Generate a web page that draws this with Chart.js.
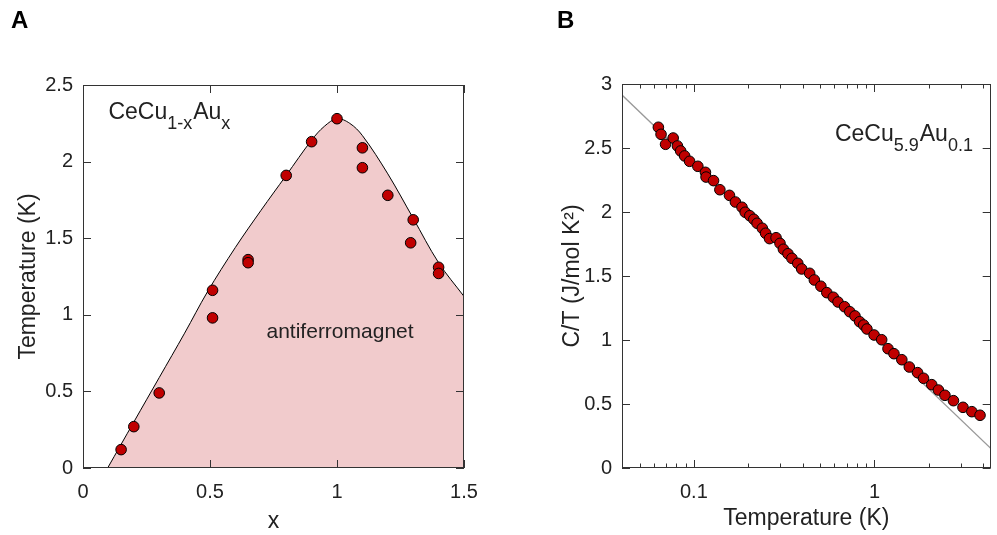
<!DOCTYPE html>
<html lang="en">
<head>
<meta charset="UTF-8">
<title>CeCu6-xAux: phase diagram and specific heat</title>
<style>
  body { margin: 0; background: #fff; }
  #wrap { position: relative; width: 997px; height: 535px; }
  #chartA { position: absolute; left: 0; top: 0; }
  #chartB { position: absolute; left: 500px; top: 0; }
</style>
<script src="https://cdn.jsdelivr.net/npm/chart.js"></script>
</head>
<body>
<div id="wrap">
  <canvas id="chartA" width="500" height="535"></canvas>
  <canvas id="chartB" width="497" height="535"></canvas>
</div>
<script>
// ---- Panel A: Neel temperature vs Au content x ----
const tnX = [0.15, 0.2, 0.3, 0.51, 0.51, 0.65, 0.65, 0.8, 0.9, 1.0, 1.1, 1.1, 1.2, 1.3, 1.29, 1.4, 1.4];
const tnY = [0.12, 0.27, 0.49, 1.16, 0.98, 1.36, 1.34, 1.91, 2.13, 2.28, 2.09, 1.96, 1.78, 1.62, 1.47, 1.31, 1.27];
// phase boundary
const boundaryX = [0.097, 0.2, 0.3, 0.4, 0.49, 0.6, 0.7, 0.8, 0.9, 0.95, 1.0, 1.05, 1.1, 1.2, 1.3, 1.4, 1.5];
const boundaryY = [0, 0.30, 0.59, 0.88, 1.15, 1.44, 1.68, 1.91, 2.14, 2.23, 2.28, 2.25, 2.17, 1.92, 1.63, 1.34, 1.12];
const xTicksA = [0, 0.5, 1, 1.5];
const yTicksA = [0, 0.5, 1, 1.5, 2, 2.5];

// ---- Panel B: C/T vs T for CeCu5.9Au0.1 ----
const tempB = [0.0636, 0.0658, 0.0697, 0.0768, 0.0811, 0.0845, 0.0889, 0.0947, 0.1052, 0.1159,
               0.1168, 0.1285, 0.1393, 0.1574, 0.1698, 0.1847, 0.1924, 0.204, 0.2147, 0.2239,
               0.2393, 0.2495, 0.2624, 0.2851, 0.2998, 0.3131, 0.3318, 0.349, 0.376, 0.3954,
               0.4375, 0.4645, 0.5048, 0.5445, 0.5916, 0.628, 0.6829, 0.7297, 0.7798, 0.8276,
               0.871, 0.908, 0.995, 1.096, 1.188, 1.282, 1.417, 1.559, 1.733, 1.869,
               2.075, 2.259, 2.455, 2.737, 3.09, 3.46, 3.84];
const cOverT = [2.662, 2.607, 2.529, 2.578, 2.516, 2.477, 2.438, 2.396, 2.357, 2.31,
                2.273, 2.245, 2.174, 2.13, 2.078, 2.037, 1.998, 1.971, 1.943, 1.912,
                1.873, 1.834, 1.792, 1.799, 1.755, 1.709, 1.674, 1.638, 1.599, 1.555,
                1.521, 1.469, 1.42, 1.37, 1.334, 1.297, 1.26, 1.221, 1.188, 1.143,
                1.117, 1.086, 1.039, 1.002, 0.932, 0.893, 0.846, 0.789, 0.745, 0.701,
                0.651, 0.609, 0.568, 0.526, 0.474, 0.44, 0.412];
// -log T guide line, end points
const fitT = [0.04, 4.4];
const fitCT = [2.914, 0.154];
const xTicksB = [0.04, 0.05, 0.06, 0.07, 0.08, 0.09, 0.1, 0.2, 0.3, 0.4, 0.5, 0.6, 0.7, 0.8, 0.9, 1, 2, 3, 4];
const xMajorB = [0.1, 1];
const yTicksB = [0, 0.5, 1, 1.5, 2, 2.5, 3];

const FONT = '"Liberation Sans", Arial, sans-serif';
const TEXT = '#222';

function pairs(xs, ys) {
  return xs.map((x, i) => ({ x: x, y: ys[i] }));
}

// draws box frame + inward tick marks on all four sides, panel letter and labels
const framePlugin = {
  id: 'frame',
  afterDatasetsDraw(chart, args, o) {
    const ctx = chart.ctx;
    const a = chart.chartArea;
    const xs = chart.scales.x, ys = chart.scales.y;
    ctx.save();
    ctx.strokeStyle = '#333';
    ctx.lineWidth = 1;
    ctx.beginPath();
    xs.ticks.forEach(t => {
      const px = Math.round(xs.getPixelForValue(t.value)) + 0.5;
      const len = o.isMajor(t.value) ? 8 : 4.5;
      ctx.moveTo(px, a.bottom); ctx.lineTo(px, a.bottom - len);
      ctx.moveTo(px, a.top); ctx.lineTo(px, a.top + len);
    });
    ys.ticks.forEach(t => {
      const py = Math.round(ys.getPixelForValue(t.value)) + 0.5;
      ctx.moveTo(a.left, py); ctx.lineTo(a.left + 8, py);
      ctx.moveTo(a.right, py); ctx.lineTo(a.right - 8, py);
    });
    ctx.stroke();
    ctx.strokeRect(Math.round(a.left) + 0.5, Math.round(a.top) + 0.5,
                   Math.round(a.width) - 1, Math.round(a.height) - 1);

    // panel letter
    ctx.fillStyle = '#000';
    ctx.font = 'bold 24px ' + FONT;
    ctx.textBaseline = 'alphabetic';
    ctx.fillText(o.letter, o.letterX, 28);

    // labels with subscripts, anchored in data coordinates
    ctx.fillStyle = TEXT;
    o.labels.forEach(l => {
      let x = xs.getPixelForValue(l.x);
      const y = ys.getPixelForValue(l.y);
      if (l.align === 'center') {
        ctx.font = l.size + 'px ' + FONT;
        ctx.textAlign = 'center';
        ctx.fillText(l.runs[0][0], x, y);
        ctx.textAlign = 'left';
        return;
      }
      l.runs.forEach(r => {
        const sub = r[1];
        ctx.font = (sub ? 18 : l.size) + 'px ' + FONT;
        ctx.fillText(r[0], x, sub ? y + 10 : y);
        x += ctx.measureText(r[0]).width + (sub ? 1 : 0);
      });
    });
    ctx.restore();
  }
};

function axisTitle(text, pad) {
  return { display: true, text: text, color: TEXT, font: { family: FONT, size: 23 }, padding: pad };
}
function tickOpts(extra) {
  return Object.assign({ color: TEXT, font: { family: FONT, size: 20 }, callback: v => String(v) }, extra);
}

// ---------- Panel A ----------
new Chart(document.getElementById('chartA'), {
  type: 'scatter',
  data: {
    datasets: [
      {
        data: pairs(tnX, tnY),
        pointRadius: 5.3,
        pointBackgroundColor: '#c00000',
        pointBorderColor: '#000',
        pointBorderWidth: 1,
        order: 0
      },
      {
        data: pairs(boundaryX, boundaryY),
        showLine: true,
        pointRadius: 0,
        borderColor: '#000',
        borderWidth: 1,
        tension: 0.35,
        fill: 'origin',
        backgroundColor: '#f1cbcc',
        order: 1
      }
    ]
  },
  options: {
    responsive: false,
    animation: false,
    layout: { padding: { left: 0, top: 85, right: 36, bottom: 0 } },
    plugins: {
      legend: { display: false },
      tooltip: { enabled: false },
      frame: {
        letter: 'A', letterX: 11,
        isMajor: () => true,
        labels: [
          { x: 0.1, y: 2.281, size: 23, runs: [['CeCu', false], ['1-x', true], ['Au', false], ['x', true]] },
          { x: 1.012, y: 0.85, size: 21, align: 'center', runs: [['antiferromagnet', false]] }
        ]
      }
    },
    scales: {
      x: {
        type: 'linear', min: 0, max: 1.5,
        afterBuildTicks: s => { s.ticks = xTicksA.map(v => ({ value: v })); },
        afterFit: s => { s.height = 67; },
        grid: { display: false, drawTicks: false },
        border: { display: false },
        ticks: tickOpts({ padding: 12, maxRotation: 0, autoSkip: false }),
        title: axisTitle('x', { top: 0, bottom: 0 })
      },
      y: {
        type: 'linear', min: 0, max: 2.5,
        afterBuildTicks: s => { s.ticks = yTicksA.map(v => ({ value: v })); },
        afterFit: s => { s.width = 83; },
        grid: { display: false, drawTicks: false },
        border: { display: false },
        ticks: tickOpts({ padding: 10 }),
        title: axisTitle('Temperature (K)', { top: 15, bottom: 0 })
      }
    }
  },
  plugins: [framePlugin]
});

// ---------- Panel B ----------
new Chart(document.getElementById('chartB'), {
  type: 'scatter',
  data: {
    datasets: [
      {
        data: pairs(tempB, cOverT),
        pointRadius: 5.3,
        pointBackgroundColor: '#c00000',
        pointBorderColor: '#000',
        pointBorderWidth: 1,
        order: 0
      },
      {
        data: pairs(fitT, fitCT),
        showLine: true,
        pointRadius: 0,
        borderColor: '#999999',
        borderWidth: 1.3,
        order: 1
      }
    ]
  },
  options: {
    responsive: false,
    animation: false,
    layout: { padding: { left: 0, top: 84, right: 1, bottom: 0 } },
    plugins: {
      legend: { display: false },
      tooltip: { enabled: false },
      frame: {
        letter: 'B', letterX: 57,
        isMajor: v => xMajorB.includes(v),
        labels: [
          { x: 0.604, y: 2.555, size: 23, runs: [['CeCu', false], ['5.9', true], ['Au', false], ['0.1', true]] }
        ]
      }
    },
    scales: {
      x: {
        type: 'logarithmic', min: 0.04, max: 4.4,
        afterBuildTicks: s => { s.ticks = xTicksB.map(v => ({ value: v })); },
        afterFit: s => { s.height = 67; },
        grid: { display: false, drawTicks: false },
        border: { display: false },
        ticks: tickOpts({
          padding: 12, maxRotation: 0, autoSkip: false,
          callback: v => xMajorB.includes(v) ? String(v) : ''
        }),
        title: axisTitle('Temperature (K)', { top: 0, bottom: 3 })
      },
      y: {
        type: 'linear', min: 0, max: 3,
        afterBuildTicks: s => { s.ticks = yTicksB.map(v => ({ value: v })); },
        afterFit: s => { s.width = 122; },
        grid: { display: false, drawTicks: false },
        border: { display: false },
        ticks: tickOpts({ padding: 10 }),
        title: axisTitle('C/T (J/mol K²)', { top: 59, bottom: 0 })
      }
    }
  },
  plugins: [framePlugin]
});
</script>
</body>
</html>
